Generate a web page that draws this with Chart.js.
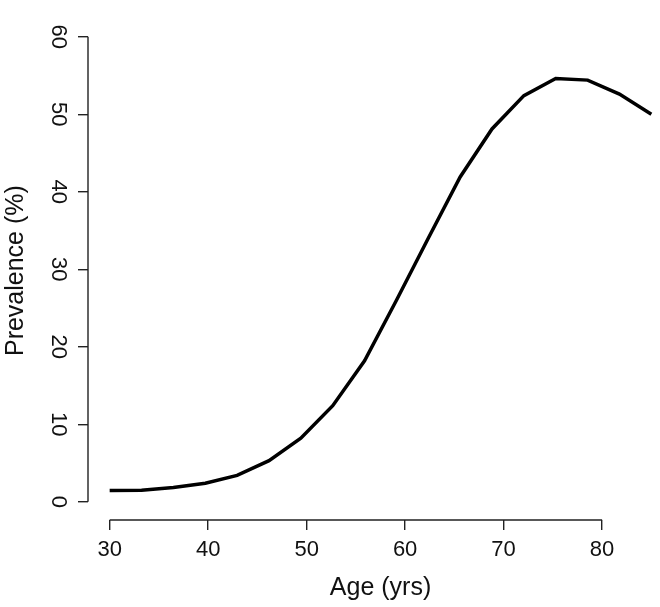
<!DOCTYPE html>
<html>
<head>
<meta charset="utf-8">
<script src="https://cdn.jsdelivr.net/npm/chart.js@4"></script>
<style>
  html, body { margin:0; padding:0; background:#fff; overflow:hidden; }
  #wrap { width:673px; height:607px; }
</style>
</head>
<body>
<div id="wrap"><canvas id="chart"></canvas></div>
<script>
// values
const ages = [30, 33.24, 36.47, 39.71, 42.94, 46.18, 49.41, 52.65, 55.88, 59.12, 62.35, 65.59, 68.82, 72.06, 75.29, 78.53, 81.76, 85];
const prevalence = [1.45, 1.5, 1.85, 2.4, 3.4, 5.3, 8.2, 12.4, 18.2, 26.0, 34.0, 41.9, 48.1, 52.4, 54.6, 54.4, 52.6, 50.0];
const xTicks = [30, 40, 50, 60, 70, 80];
const yTicks = [0, 10, 20, 30, 40, 50, 60];

const TICK_FONT = { family: 'Liberation Sans, Arial, sans-serif', size: 22 };
const TITLE_FONT = { family: 'Liberation Sans, Arial, sans-serif', size: 25 };

// R style axes: line only from first to last tick
const rAxes = {
  id: 'rAxes',
  afterDraw(chart){
    const {ctx, chartArea, scales:{x, y}} = chart;
    ctx.save();
    ctx.strokeStyle = '#222'; ctx.lineWidth = 1.4;
    ctx.beginPath();
    ctx.moveTo(x.getPixelForValue(xTicks[0]), chartArea.bottom);
    ctx.lineTo(x.getPixelForValue(xTicks[xTicks.length-1]), chartArea.bottom);
    ctx.moveTo(chartArea.left, y.getPixelForValue(yTicks[0]));
    ctx.lineTo(chartArea.left, y.getPixelForValue(yTicks[yTicks.length-1]));
    ctx.stroke();
    ctx.restore();
  }
};

new Chart(document.getElementById('chart'), {
  type: 'line',
  data: {
    datasets: [{
      data: ages.map((a,i)=>({x:a, y:prevalence[i]})),
      borderColor: '#000', borderWidth: 3.5, pointRadius: 0, tension: 0, fill: false
    }]
  },
  options: {
    responsive: true, maintainAspectRatio: false, animation: false,
    layout: { padding: 0 },
    plugins: { legend: { display: false }, tooltip: { enabled: false } },
    scales: {
      x: {
        type: 'linear', min: 27.8, max: 87.2,
        afterFit: s => { s.height = 87; },
        afterBuildTicks: s => { s.ticks = xTicks.map(v=>({value:v})); },
        border: { display: false },
        grid: { drawOnChartArea: false, drawTicks: true, tickLength: 10, color: '#222', lineWidth: 1.4 },
        ticks: { color: '#111', font: TICK_FONT, padding: 7, maxRotation: 0, autoSkip: false },
        title: { display: true, text: 'Age (yrs)', color: '#111', font: TITLE_FONT, padding: { top: 0, bottom: 4 } }
      },
      y: {
        type: 'linear', min: -2.35, max: 62,
        afterFit: s => { s.width = 88; },
        afterBuildTicks: s => { s.ticks = yTicks.map(v=>({value:v})); },
        border: { display: false },
        grid: { drawOnChartArea: false, drawTicks: true, tickLength: 10, color: '#222', lineWidth: 1.4 },
        ticks: { color: '#111', font: TICK_FONT, padding: 8, minRotation: -90, maxRotation: -90, crossAlign: 'center', autoSkip: false },
        title: { display: true, text: 'Prevalence (%)', color: '#111', font: TITLE_FONT, padding: { top: 1, bottom: 0 } }
      }
    }
  },
  plugins: [rAxes]
});
</script>
</body>
</html>
